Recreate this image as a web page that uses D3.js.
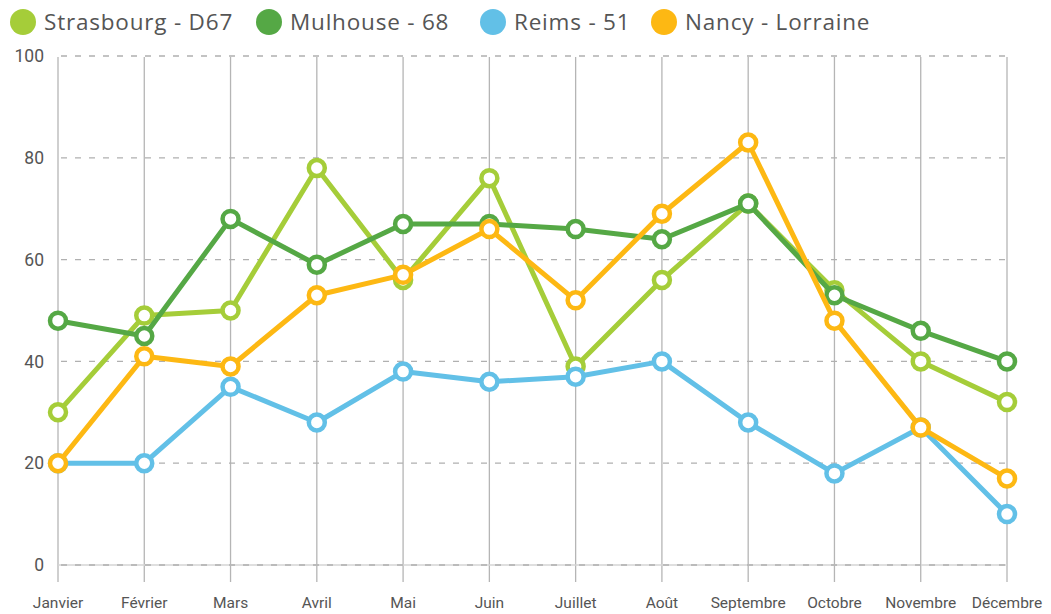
<!DOCTYPE html><html>
    <head>
        <meta charset="utf-8">
        <script src="https://cdnjs.cloudflare.com/ajax/libs/d3/7.8.5/d3.min.js"></script>
        <style>
          body { margin: 0; background: #ffffff; }
          svg text { font-family: "Roboto", "Noto Sans", sans-serif; fill: #555555; }
          svg text.legend-label { font-family: "Open Sans", "Noto Sans", sans-serif; }
        </style>
    </head>
    <body>
        <svg id="chart" width="1051" height="614"></svg>
        <script>
            var months = ["Janvier", "Février", "Mars", "Avril", "Mai", "Juin", "Juillet", "Août", "Septembre", "Octobre", "Novembre", "Décembre"];
            var seriesNames = ["Strasbourg - D67", "Mulhouse - 68", "Reims - 51", "Nancy - Lorraine"];
            var seriesColors = ["#a5cd39", "#55a845", "#62c0e7", "#fdb813"];
            var strasbourg = [30, 49, 50, 78, 56, 76, 39, 56, 71, 54, 40, 32];
            var mulhouse = [48, 45, 68, 59, 67, 67, 66, 64, 71, 53, 46, 40];
            var reims = [20, 20, 35, 28, 38, 36, 37, 40, 28, 18, 27, 10];
            var nancy = [20, 41, 39, 53, 57, 66, 52, 69, 83, 48, 27, 17];
            var yTicks = [0, 20, 40, 60, 80, 100];
            var legendX = [23, 269, 493, 664];

            var allValues = [strasbourg, mulhouse, reims, nancy];

            var svg = d3.select("#chart");
            var x = d3.scalePoint().domain(months).range([58, 1007]);
            var y = d3.scaleLinear().domain([0, 100]).range([565, 56]);

            // vertical grid lines (solid), running a bit below the zero line
            svg.append("g").selectAll("line").data(months).enter().append("line")
                .attr("x1", function(d) { return x(d); })
                .attr("x2", function(d) { return x(d); })
                .attr("y1", y(100) + 1)
                .attr("y2", 582)
                .attr("stroke", "#b5b5b5")
                .attr("stroke-width", 1.3);

            // horizontal dashed lines
            svg.append("line")
                .attr("x1", x(months[0])).attr("x2", x(months[11]))
                .attr("y1", y(0)).attr("y2", y(0))
                .attr("stroke", "#d4d4d4").attr("stroke-width", 1.3);
            svg.append("g").selectAll("line").data(yTicks).enter().append("line")
                .attr("x1", x(months[0]) + 3)
                .attr("x2", x(months[11]))
                .attr("y1", function(d) { return y(d); })
                .attr("y2", function(d) { return y(d); })
                .attr("stroke", "#b0b0b0")
                .attr("stroke-width", 1.3)
                .attr("stroke-dasharray", "6,8");

            // y labels
            svg.append("g").selectAll("text").data(yTicks).enter().append("text")
                .attr("x", 44)
                .attr("y", function(d) { return y(d); })
                .attr("dy", "0.35em")
                .attr("text-anchor", "end")
                .attr("font-size", 17.5)
                .text(function(d) { return d; });

            // x labels
            svg.append("g").selectAll("text").data(months).enter().append("text")
                .attr("x", function(d) { return x(d); })
                .attr("y", 608)
                .attr("text-anchor", "middle")
                .attr("font-size", 15.5)
                .text(function(d) { return d; });

            var line = d3.line()
                .x(function(d, i) { return x(months[i]); })
                .y(function(d) { return y(d); });

            allValues.forEach(function(vals, s) {
                var g = svg.append("g");
                g.append("path")
                    .attr("d", line(vals))
                    .attr("fill", "none")
                    .attr("stroke", seriesColors[s])
                    .attr("stroke-width", 5)
                    .attr("stroke-linejoin", "round");
                g.selectAll("circle").data(vals).enter().append("circle")
                    .attr("cx", function(d, i) { return x(months[i]); })
                    .attr("cy", function(d) { return y(d); })
                    .attr("r", 8)
                    .attr("fill", "#ffffff")
                    .attr("stroke", seriesColors[s])
                    .attr("stroke-width", 4.5);
            });

            // legend
            var legend = svg.append("g");
            seriesNames.forEach(function(name, s) {
                legend.append("circle")
                    .attr("cx", legendX[s])
                    .attr("cy", 22)
                    .attr("r", 13)
                    .attr("fill", seriesColors[s]);
                legend.append("text")
                    .attr("class", "legend-label")
                    .attr("x", legendX[s] + 21)
                    .attr("y", 22)
                    .attr("dy", "0.35em")
                    .attr("font-size", 22.5)
                    .attr("letter-spacing", 0.8)
                    .text(name);
            });
        </script>
    </body>
</html>
